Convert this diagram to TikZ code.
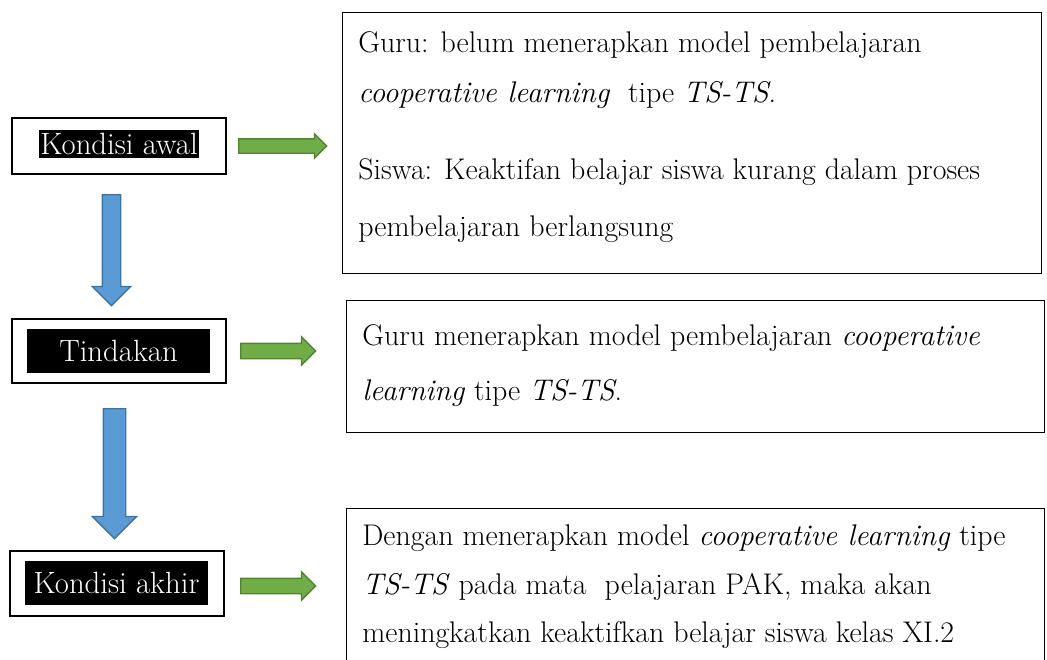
\documentclass[tikz,border=0pt]{standalone}
\usepackage{fontspec}
\usetikzlibrary{positioning,shapes.arrows}

\definecolor{arrowblue}{RGB}{91,155,213}
\definecolor{arrowblueline}{RGB}{65,113,156}
\definecolor{arrowgreen}{RGB}{112,173,71}
\definecolor{arrowgreenline}{RGB}{84,130,53}

\begin{document}
\begin{tikzpicture}[x=0.02cm, y=-0.02cm, font=\fontsize{17}{20}\selectfont,
    stagebox/.style={draw, line width=1pt, minimum width=4.28cm, inner sep=0pt},
    stagelabel/.style={fill=black, text=white, inner xsep=1pt, inner ysep=0pt,
        font=\fontsize{17.5}{20}\selectfont},
    infobox/.style={draw, line width=0.8pt, anchor=north west, inner sep=0pt},
    txt/.style={anchor=base west, inner sep=0pt},
    bluearrow/.style={single arrow, draw=arrowblueline, fill=arrowblue, line width=0.8pt,
        inner xsep=0pt, rotate=-90, anchor=tail},
    greenarrow/.style={single arrow, draw=arrowgreenline, fill=arrowgreen, line width=0.8pt,
        inner xsep=0pt, anchor=tail}]
    \useasboundingbox (0,0) rectangle (1047,659);

    % left column
    \node[stagebox, minimum height=1.12cm] (awal) at (119,146) {};
    \node[stagelabel, minimum height=0.56cm] (awallabel) at (119,144) {Kondisi awal};

    \node[stagebox, minimum height=1.28cm] (tindakan) at (119,351) {};
    \node[stagelabel, minimum width=3.66cm, minimum height=0.88cm] (tindakanlabel) at (118.5,351) {Tindakan};

    \node[stagebox, minimum height=1.3cm] (akhir) at (117,583.5) {};
    \node[stagelabel, minimum width=3.66cm, minimum height=0.88cm] (akhirlabel) at (116.5,583) {Kondisi akhir};

    % downward arrows
    \node[bluearrow, minimum height=2.22cm, inner ysep=0.17cm, single arrow head extend=0.2cm] (down1) at (111.5,194) {};
    \node[bluearrow, minimum height=2.6cm, inner ysep=0.21cm, single arrow head extend=0.22cm] (down2) at (114.5,408) {};

    % arrows to the right
    \node[greenarrow, minimum height=1.76cm, inner ysep=0.13cm, single arrow head extend=0.1cm] (right1) at (238,146) {};
    \node[greenarrow, minimum height=1.5cm, inner ysep=0.14cm, single arrow head extend=0.13cm] (right2) at (240,351) {};
    \node[greenarrow, minimum height=1.5cm, inner ysep=0.14cm, single arrow head extend=0.13cm] (right3) at (240,586) {};

    % right column
    \node[infobox, minimum width=13.98cm, minimum height=5.22cm] (infoawal) at (342,12) {};
    \node[txt] (awal1) at (358,52) {Guru: belum menerapkan model pembelajaran};
    \node[txt] (awal2) at (358,102) {\textit{cooperative learning}\ \ tipe \textit{TS-TS}.};
    \node[txt] (awal3) at (358,179) {Siswa: Keaktifan belajar siswa kurang dalam proses};
    \node[txt] (awal4) at (358,236) {pembelajaran berlangsung};

    \node[infobox, minimum width=13.96cm, minimum height=2.64cm] (infotindakan) at (346,300) {};
    \node[txt] (tindakan1) at (362,345) {Guru menerapkan model pembelajaran \textit{cooperative}};
    \node[txt] (tindakan2) at (362,400) {\textit{learning} tipe \textit{TS-TS}.};

    \node[infobox, minimum width=13.96cm, minimum height=4cm] (infoakhir) at (346,508) {};
    \node[txt] (akhir1) at (362,545) {Dengan menerapkan model \textit{cooperative learning} tipe};
    \node[txt] (akhir2) at (362,594) {\textit{TS-TS} pada mata\ \ pelajaran PAK, maka akan};
    \node[txt] (akhir3) at (362,642) {meningkatkan keaktifkan belajar siswa kelas XI.2};
\end{tikzpicture}
\end{document}
